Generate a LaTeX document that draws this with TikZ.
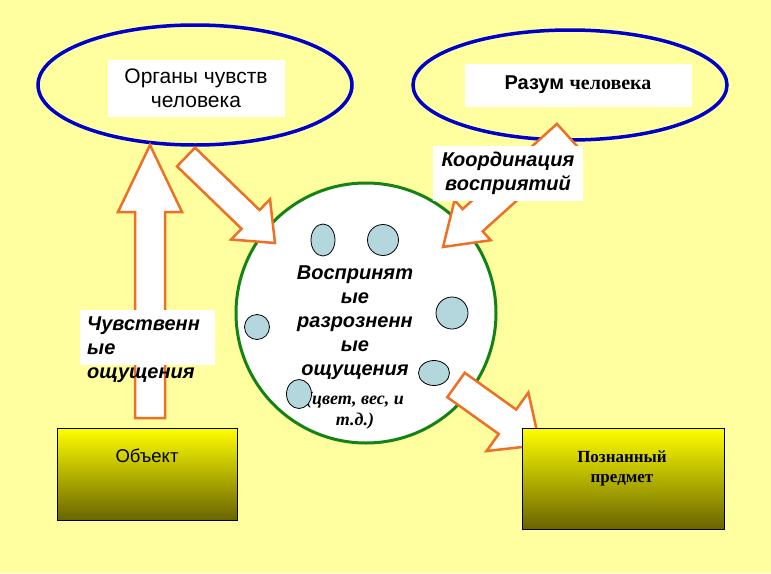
\documentclass[tikz,border=0pt]{standalone}
\usepackage{fontspec}
\setmainfont{Liberation Sans}
\newfontfamily\timesfont{Liberation Serif}
\usetikzlibrary{calc,shapes.geometric,positioning}

\definecolor{bgyellow}{RGB}{255,255,160}
\definecolor{ovalblue}{RGB}{0,0,200}
\definecolor{rimgreen}{RGB}{20,130,20}
\definecolor{arrorange}{RGB}{238,112,38}
\definecolor{dotblue}{RGB}{180,215,222}
\definecolor{boxolive}{RGB}{105,100,0}

\tikzset{
  oval/.style={ellipse, draw=ovalblue, line width=3.5pt},
  whitebox/.style={fill=white, inner sep=0pt},
  blockline/.style={draw=arrorange, fill=white, line width=2.5pt, line join=miter},
  dot/.style={ellipse, draw=black, line width=0.8pt, fill=dotblue, inner sep=0pt},
  thingbox/.style={draw=black, line width=1pt, top color=yellow, bottom color=boxolive, inner sep=0pt},
  bigtxt/.style={font=\fontsize{21}{24}\selectfont, align=center},
  italtxt/.style={font=\fontsize{20}{24}\selectfont\bfseries\itshape},
}

% block arrow: from, to, half shaft, half head, head length
\newcommand{\blockarrow}[5]{%
  \draw[blockline] ($(#1)!#3!90:(#2)$)
    -- ($(#2)!#5!(#1)!#3!-90:(#1)$)
    -- ($(#2)!#5!(#1)!#4!-90:(#1)$)
    -- (#2)
    -- ($(#2)!#5!(#1)!#4!90:(#1)$)
    -- ($(#2)!#5!(#1)!#3!90:(#1)$)
    -- ($(#1)!#3!-90:(#2)$) -- cycle;}

\begin{document}
\begin{tikzpicture}[x=1pt, y=-1pt]
    \fill[bgyellow] (0,0) rectangle (771,573);
    \path[use as bounding box] (0,0) rectangle (771,573);

    % central circle
    \node[circle, draw=rimgreen, line width=3pt, fill=white, minimum size=260pt] (percept) at (366,313) {};
    \node[font=\fontsize{20}{24}\selectfont\bfseries\itshape, align=center] (perceptlbl) at (355,323) {Воспринят\\ые\\разрозненн\\ые\\ощущения};
    \node[font=\fontsize{18}{21}\selectfont\timesfont\bfseries\itshape, align=center] (detaillbl) at (355,411) {(цвет, вес, и\\т.д.)};

    \node[dot, minimum width=24pt, minimum height=32pt] (dotA) at (323,240) {};
    \node[dot, minimum width=31pt, minimum height=31pt] (dotB) at (383,240) {};
    \node[dot, minimum width=25pt, minimum height=25pt] (dotC) at (257,327) {};
    \node[dot, minimum width=32pt, minimum height=32pt] (dotD) at (452,313) {};
    \node[dot, minimum width=31pt, minimum height=25pt] (dotE) at (434,373) {};
    \node[dot, minimum width=25pt, minimum height=29pt] (dotF) at (299,394) {};

    % ovals
    \node[oval, minimum width=314pt, minimum height=120pt] (senses) at (195,85) {};
    \node[oval, minimum width=314pt, minimum height=110pt] (mind) at (570,85) {};
    \node[whitebox, minimum width=177pt, minimum height=57pt, bigtxt] (senseslbl) at (196,88) {Органы чувств\\человека};
    \node[whitebox, minimum width=227pt, minimum height=43pt, font=\fontsize{20}{24}\selectfont\bfseries] (mindlbl) at (578,85) {Разум {\timesfont человека}};

    % arrows
    \coordinate (upfoot) at (150,418);
    \coordinate (uptip) at (150,145);
    \blockarrow{upfoot}{uptip}{15pt}{32pt}{67pt}
    \coordinate (inL) at (186,157);
    \coordinate (inLtip) at (275,243);
    \blockarrow{inL}{inLtip}{13pt}{28pt}{34pt}
    \coordinate (inR) at (567,135);
    \coordinate (inRtip) at (443,247);
    \blockarrow{inR}{inRtip}{15pt}{27pt}{40pt}
    \coordinate (outfoot) at (456,385);
    \coordinate (outtip) at (540,445);
    \blockarrow{outfoot}{outtip}{15pt}{36pt}{40pt}

    % labels over arrows
    \node[whitebox, minimum width=150pt, minimum height=55pt, italtxt, align=center] (coordlbl) at (508,173) {Координация\\восприятий};
    \node[whitebox, minimum width=135pt, minimum height=55pt] (feelbox) at (147.5,337.5) {};
    \node[italtxt, align=left, anchor=north west, inner sep=0pt] (feellbl) at (87,317) {Чувственн\\ые\\ощущения};

    % bottom boxes
    \node[thingbox, minimum width=180pt, minimum height=92pt] (object) at (147,474) {};
    \node[font=\fontsize{18.5}{22}\selectfont] (objectlbl) at (147,456) {Объект};
    \node[thingbox, minimum width=202pt, minimum height=101pt] (known) at (623,478.5) {};
    \node[font=\fontsize{17}{20}\selectfont\timesfont\bfseries, align=center] (knownlbl) at (622,468) {Познанный\\предмет};
\end{tikzpicture}
\end{document}
